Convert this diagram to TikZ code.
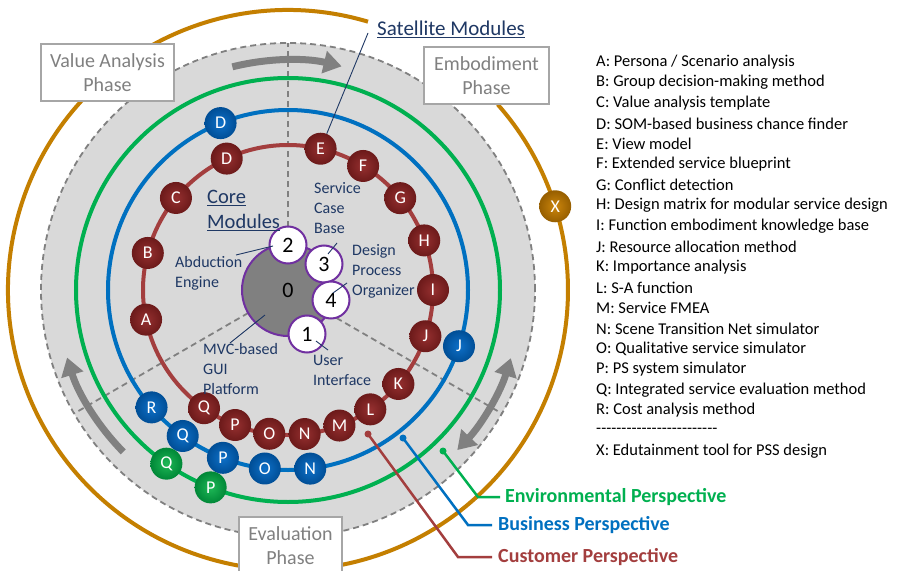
\documentclass[tikz,border=0pt]{standalone}
\usepackage{fontspec}
\setmainfont{Carlito}
\usetikzlibrary{arrows.meta}

\definecolor{redring}{RGB}{163,62,62}
\definecolor{redin}{RGB}{150,48,48}
\definecolor{redout}{RGB}{108,26,26}
\definecolor{bluering}{RGB}{0,112,192}
\definecolor{bluein}{RGB}{14,112,200}
\definecolor{blueout}{RGB}{0,78,150}
\definecolor{greenring}{RGB}{0,176,80}
\definecolor{greenin}{RGB}{30,184,86}
\definecolor{greenout}{RGB}{0,135,55}
\definecolor{orangering}{RGB}{196,127,0}
\definecolor{orangein}{RGB}{204,134,12}
\definecolor{orangeout}{RGB}{150,94,0}
\definecolor{diskgray}{RGB}{217,217,217}
\definecolor{dashgray}{RGB}{128,128,128}
\definecolor{coregray}{RGB}{128,128,128}
\definecolor{corepurple}{RGB}{112,48,160}
\definecolor{navy}{RGB}{31,56,100}
\definecolor{boxline}{RGB}{166,166,166}
\definecolor{boxtext}{RGB}{128,128,128}

\newcommand\legdash{\mbox{-}}

\tikzset{
  ring/.style={line width=4pt},
  graydash/.style={draw=dashgray, line width=1.8pt, dash pattern=on 6pt off 4pt},
  phasearrow/.style={draw=dashgray, line width=7pt},
  module/.style={circle, minimum size=32pt, inner sep=0pt, text=white,
    font=\fontsize{18}{18}\selectfont, shading=radial},
  rednode/.style={module, inner color=redin, outer color=redout},
  bluenode/.style={module, inner color=bluein, outer color=blueout},
  greennode/.style={module, inner color=greenin, outer color=greenout},
  orangenode/.style={module, inner color=orangein, outer color=orangeout},
  corebig/.style={circle, fill=coregray, draw=corepurple, line width=2pt,
    minimum size=92pt, inner sep=0pt, font=\fontsize{22}{22}\selectfont},
  coresmall/.style={circle, fill=white, draw=corepurple, line width=2pt,
    minimum size=37pt, inner sep=0pt, font=\fontsize{22}{22}\selectfont},
  lab/.style={text=navy, align=left, anchor=west, inner sep=0pt,
    font=\fontsize{16}{20}\selectfont},
  lead/.style={draw=navy, line width=0.9pt},
  phase/.style={draw=boxline, fill=white, line width=1.2pt, text=boxtext,
    align=center, inner sep=0pt, font=\fontsize{20}{24}\selectfont},
  persp/.style={anchor=west, inner sep=0pt, font=\bfseries\fontsize{20}{24}\selectfont},
  dot/.style={circle, inner sep=0pt, minimum size=7pt},
  legend/.style={anchor=west, inner sep=0pt, font=\fontsize{16.5}{20}\selectfont},
}

\begin{document}
\begin{tikzpicture}[x=1pt,y=1pt]
\useasboundingbox (-288,-280) rectangle (613,290);
\fill[white] (-288,-280) rectangle (613,290);

% outer ring of the edutainment tool
\draw[ring, draw=orangering] (73.4:280) arc[start angle=73.4, end angle=401.5, radius=280];

% design space disk and phase dividers
\draw[graydash, fill=diskgray] (0,0) circle[radius=247];
\draw[graydash] (90:63) -- (90:247);
\draw[graydash] (210:46) -- (210:247);
\draw[graydash] (330:46) -- (330:247);

% phase transition arrows
\draw[phasearrow, -{Triangle[length=18pt,width=22pt]}]
  (104:230) arc[start angle=104, end angle=76.5, radius=230];
\draw[phasearrow, -{Triangle[length=18pt,width=22pt]}]
  (224.5:231) arc[start angle=224.5, end angle=197, radius=231];
\draw[phasearrow, {Triangle[length=18pt,width=22pt]}-{Triangle[length=18pt,width=22pt]}]
  (-43.4:233) arc[start angle=-43.4, end angle=-17, radius=233];

% perspective rings
\draw[ring, draw=greenring] (0,0) circle[radius=212];
\draw[ring, draw=bluering] (0,0) circle[radius=180];
\draw[ring, draw=redring] (0,0) circle[radius=145];

% satellite modules on each ring
\foreach \n/\a in {A/191.8, B/165.2, C/140.6, D/115, E/77, F/58.8, G/39.3, H/20,
                   I/0, J/-18.6, K/-40.4, L/-55.4, M/-69.2, N/-83.4, O/-97.4,
                   P/-111.4, Q/-125.4}
  \node[rednode] (r\n) at (\a:145) {\n};
\foreach \n/\a in {D/112, J/-18.2, R/220.7, Q/234.2, P/248.8, O/262.6, N/277.1}
  \node[bluenode] (b\n) at (\a:180) {\n};
\foreach \n/\a in {Q/235, P/248.6}
  \node[greennode] (g\n) at (\a:212) {\n};
\node[orangenode] (oX) at (17.4:280) {X};

% core modules
\node[corebig] (c0) at (0,0) {0};
\node[coresmall] (c2) at (0,45) {2};
\node[coresmall] (c3) at (36,26) {3};
\node[coresmall] (c4) at (43,-10) {4};
\node[coresmall] (c1) at (19,-44) {1};

% core labels
\node[lab, font=\fontsize{20.5}{25}\selectfont] (coreLab) at (-81,79.5)
  {\underline{Core}\\\underline{Modules}};
\node[lab] (labCase) at (26,82) {Service\\Case\\Base};
\node[lab] (labDPO) at (64,18.5) {Design\\Process\\Organizer};
\node[lab] (labAbd) at (-113,16.5) {Abduction\\Engine};
\node[lab] (labMVC) at (-85,-79) {MVC-based\\GUI\\Platform};
\node[lab] (labUI) at (25,-80) {User\\Interface};

\coordinate (leadAbd) at (-52,35);
\coordinate (leadCase) at (49,47);
\coordinate (leadDPO) at (59,7);
\coordinate (leadMVC) at (-58,-53);
\coordinate (leadUI) at (40,-60);
\draw[lead] (leadAbd) -- ([shift={(-15,-1)}]c2.center);
\draw[lead] (leadCase) -- ([shift={(4,10)}]c3.center);
\draw[lead] (leadDPO) -- ([shift={(2,7)}]c4.center);
\draw[lead] (leadMVC) -- ([shift={(-23,-25)}]c0.center);
\draw[lead] (leadUI) -- ([shift={(9,-7)}]c1.center);

% satellite modules label
\node[lab, font=\fontsize{21}{25}\selectfont] (satLab) at (89,261) {\underline{Satellite Modules}};
\coordinate (leadSat) at (80,257);
\draw[lead] (leadSat) -- (rE);

% phase boxes
\node[phase, minimum width=133pt, minimum height=57pt] (pVA) at (-180.5,217.5) {Value Analysis\\Phase};
\node[phase, minimum width=125pt, minimum height=57pt] (pEm) at (198.5,214.5) {Embodiment\\Phase};
\node[phase, minimum width=103pt, minimum height=57pt] (pEv) at (2.5,-255.5) {Evaluation\\Phase};

% perspective call-outs
\node[dot, fill=greenring] (dG) at (155,-161) {};
\node[dot, fill=bluering] (dB) at (115,-148) {};
\node[dot, fill=redring] (dR) at (80,-144) {};
\coordinate (kG) at (190,-207);
\coordinate (kB) at (180,-235);
\coordinate (kR) at (170,-267);
\node[persp, text=greenring] (tG) at (217,-207) {Environmental Perspective};
\node[persp, text=bluering] (tB) at (210,-235) {Business Perspective};
\node[persp, text=redring] (tR) at (210,-267) {Customer Perspective};
\draw[draw=greenring, line width=2.5pt] (dG.center) -- (kG) -- ([xshift=-5pt]tG.west);
\draw[draw=bluering, line width=2.5pt] (dB.center) -- (kB) -- ([xshift=-6pt]tB.west);
\draw[draw=redring, line width=2.5pt] (dR.center) -- (kR) -- ([xshift=-6pt]tR.west);

% legend
\foreach \t [count=\i] in {
  {A: Persona / Scenario analysis},
  {B: Group decision-making method},
  {C: Value analysis template},
  {D: SOM-based business chance finder},
  {E: View model},
  {F: Extended service blueprint},
  {G: Conflict detection},
  {H: Design matrix for modular service design},
  {I: Function embodiment knowledge base},
  {J: Resource allocation method},
  {K: Importance analysis},
  {L: S-A function},
  {M: Service FMEA},
  {N: Scene Transition Net simulator},
  {O: Qualitative service simulator},
  {P: PS system simulator},
  {Q: Integrated service evaluation method},
  {R: Cost analysis method},
  {\legdash\legdash\legdash\legdash\legdash\legdash\legdash\legdash\legdash\legdash\legdash\legdash\legdash\legdash\legdash\legdash\legdash\legdash\legdash\legdash\legdash\legdash\legdash\legdash},
  {X: Edutainment tool for PSS design}}
  \node[legend] (leg\i) at (308,{228-20.5*(\i-1)}) {\t};
\end{tikzpicture}
\end{document}
